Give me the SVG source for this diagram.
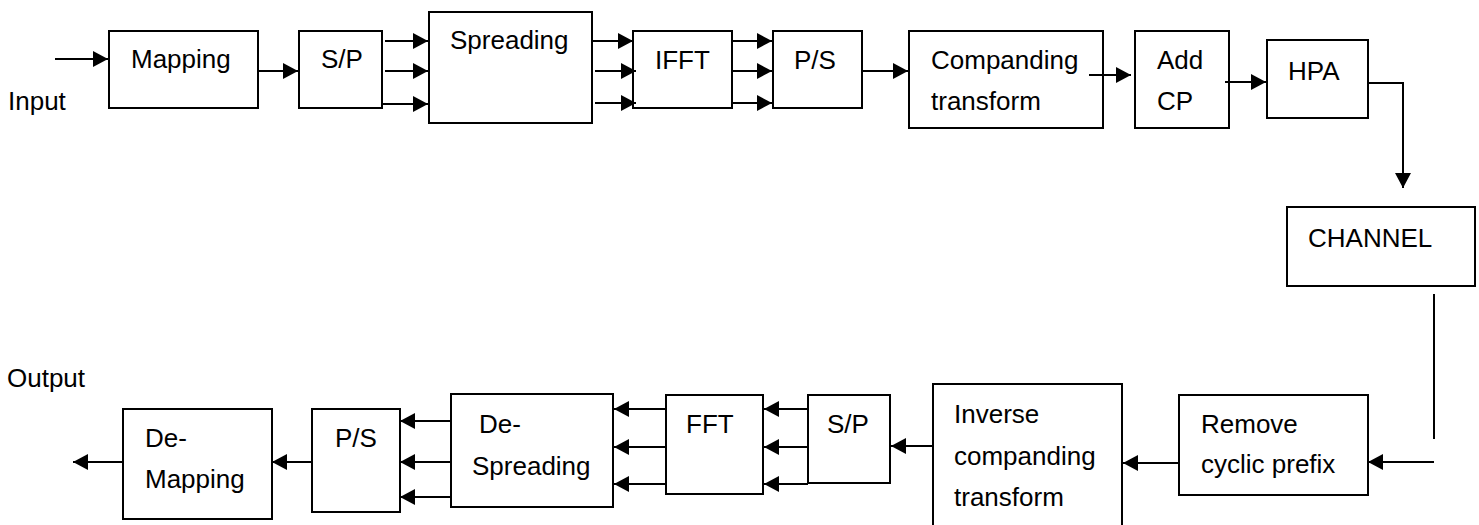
<svg xmlns="http://www.w3.org/2000/svg" width="1479" height="525" viewBox="0 0 1479 525">
<style>
rect.box{fill:#fff;stroke:#000;stroke-width:2}
text{font-family:"Liberation Sans",Arial,sans-serif;font-size:26px;fill:#000}
.c line,.c path{stroke:#000;stroke-width:2;fill:none}
.c .a{marker-end:url(#ah)}
</style>
<defs>
<marker id="ah" markerUnits="userSpaceOnUse" markerWidth="15" markerHeight="16" refX="15" refY="8" orient="auto">
<path d="M0,0 L15,8 L0,16 Z" fill="#000"/>
</marker>
</defs>
<rect width="1479" height="525" fill="#fff"/>
<g id="labels">
<text x="8" y="110">Input</text>
<text x="7" y="387">Output</text>
</g>
<g id="mapping"><rect class="box" x="109" y="31" width="149" height="77"/><text x="131" y="68">Mapping</text></g>
<g id="sp1"><rect class="box" x="299" y="31" width="83" height="77"/><text x="321" y="68">S/P</text></g>
<g id="spreading"><rect class="box" x="429" y="12" width="163" height="111"/><text x="450" y="49">Spreading</text></g>
<g id="ifft"><rect class="box" x="633" y="31" width="99" height="77"/><text x="655" y="69">IFFT</text></g>
<g id="ps1"><rect class="box" x="773" y="31" width="89" height="77"/><text x="794" y="69">P/S</text></g>
<g id="companding"><rect class="box" x="909" y="31" width="194" height="97"/><text x="931" y="69">Companding</text><text x="931" y="110">transform</text></g>
<g id="addcp"><rect class="box" x="1135" y="31" width="94" height="97"/><text x="1157" y="69">Add</text><text x="1157" y="110">CP</text></g>
<g id="hpa"><rect class="box" x="1267" y="40" width="101" height="78"/><text x="1288" y="80">HPA</text></g>
<g id="channel"><rect class="box" x="1287" y="207" width="188" height="79"/><text x="1308" y="247">CHANNEL</text></g>
<g id="remove"><rect class="box" x="1179" y="395" width="189" height="100"/><text x="1201" y="433">Remove</text><text x="1201" y="473">cyclic prefix</text></g>
<g id="inverse"><rect class="box" x="933" y="384" width="189" height="150"/><text x="954" y="423">Inverse</text><text x="954" y="465">companding</text><text x="954" y="506">transform</text></g>
<g id="sp2"><rect class="box" x="808" y="395" width="82" height="88"/><text x="827" y="433">S/P</text></g>
<g id="fft"><rect class="box" x="666" y="395" width="97" height="99"/><text x="686" y="433">FFT</text></g>
<g id="despreading"><rect class="box" x="451" y="394" width="162" height="113"/><text x="479" y="433">De-</text><text x="472" y="475">Spreading</text></g>
<g id="ps2"><rect class="box" x="312" y="409" width="88" height="103"/><text x="335" y="447">P/S</text></g>
<g id="demapping"><rect class="box" x="123" y="409" width="149" height="110"/><text x="145" y="447">De-</text><text x="145" y="488">Mapping</text></g>
<g id="connectors" class="c">
<line class="a" x1="55" y1="59" x2="108" y2="59"/>
<line class="a" x1="258" y1="71" x2="298" y2="71"/>
<line class="a" x1="385" y1="41" x2="428" y2="41"/>
<line class="a" x1="385" y1="71" x2="428" y2="71"/>
<line class="a" x1="382" y1="104" x2="428" y2="104"/>
<line class="a" x1="592" y1="41" x2="633" y2="41"/>
<line class="a" x1="595" y1="71" x2="636" y2="71"/>
<line class="a" x1="595" y1="103" x2="636" y2="103"/>
<line class="a" x1="732" y1="41" x2="772" y2="41"/>
<line class="a" x1="732" y1="71" x2="772" y2="71"/>
<line class="a" x1="732" y1="103" x2="772" y2="103"/>
<line class="a" x1="862" y1="71" x2="908" y2="71"/>
<line class="a" x1="1089" y1="75" x2="1131" y2="75"/>
<line class="a" x1="1225" y1="82" x2="1266" y2="82"/>
<path class="a" d="M1368,83 H1403 V188"/>
<line x1="1434" y1="294" x2="1434" y2="439"/>
<line class="a" x1="1434" y1="462" x2="1368" y2="462"/>
<line class="a" x1="1179" y1="463" x2="1123" y2="463"/>
<line class="a" x1="933" y1="446" x2="891" y2="446"/>
<line class="a" x1="808" y1="409" x2="764" y2="409"/>
<line class="a" x1="808" y1="447" x2="764" y2="447"/>
<line class="a" x1="808" y1="484" x2="764" y2="484"/>
<line class="a" x1="666" y1="409" x2="614" y2="409"/>
<line class="a" x1="666" y1="447" x2="614" y2="447"/>
<line class="a" x1="666" y1="484" x2="614" y2="484"/>
<line class="a" x1="451" y1="421" x2="400" y2="421"/>
<line class="a" x1="451" y1="462" x2="400" y2="462"/>
<line class="a" x1="451" y1="497" x2="400" y2="497"/>
<line class="a" x1="312" y1="462" x2="272" y2="462"/>
<line class="a" x1="123" y1="462" x2="73" y2="462"/>
</g>
</svg>
